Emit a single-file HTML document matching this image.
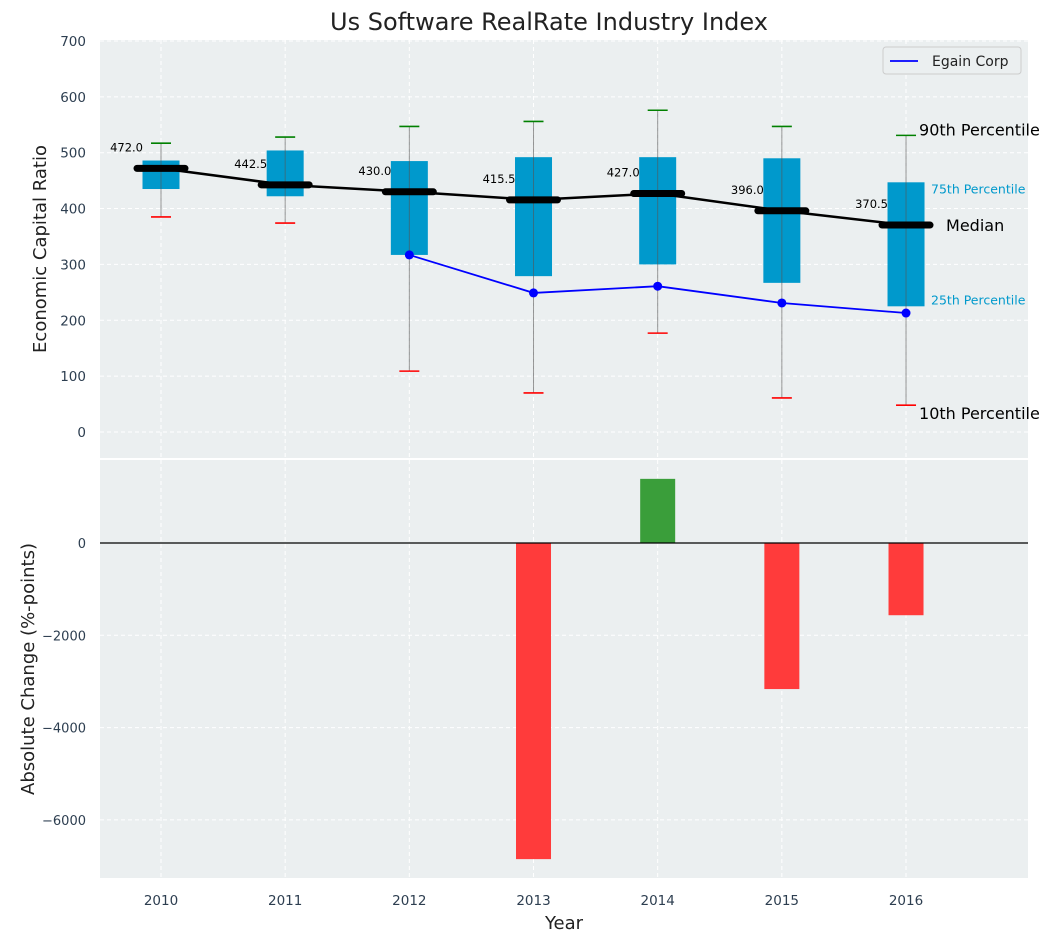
<!DOCTYPE html>
<html><head><meta charset="utf-8"><style>
body{margin:0;background:#fff}
svg{display:block;font-family:"DejaVu Sans","Liberation Sans",sans-serif}
</style></head><body>
<svg id="c" width="1054" height="942"></svg>
<script>
const years=[2010,2011,2012,2013,2014,2015,2016];
const q1=[435,422,317,279,300,267,225];
const q3=[486,504,485,492,492,490,447];
const med=[472.0,442.5,430.0,415.5,427.0,396.0,370.5];
const p10=[385,374,109,70,177,61,48];
const p90=[517,528,547,556,576,547,531];
const egYears=[2012,2013,2014,2015,2016];
const egain=[317,249,261,231,213];
const chgYears=[2013,2014,2015,2016];
const chg=[-6850,1390,-3165,-1565];
const topTicks=[0,100,200,300,400,500,600,700];
const botTicks=[0,-2000,-4000,-6000];

const NS="http://www.w3.org/2000/svg";
const svg=document.getElementById('c');
function el(t,a,p){const e=document.createElementNS(NS,t);for(const k in a)e.setAttribute(k,a[k]);(p||svg).appendChild(e);return e;}
function tx(s,a,p){const e=el('text',a,p);e.textContent=s;return e;}
const X=v=>161+(v-2010)*124.17;
const Y1=v=>432-v*0.5586;
const Y2=v=>543-v*0.04615;

const bg1=el('rect',{x:100,y:40,width:928,height:418,fill:'#ebeff0'});

const bg2=el('rect',{x:100,y:460,width:928,height:418,fill:'#ebeff0'});


years.forEach(y=>{
 el('line',{x1:X(y),x2:X(y),y1:40,y2:458,stroke:'#fff','stroke-dasharray':'4,3'});
 el('line',{x1:X(y),x2:X(y),y1:460,y2:878,stroke:'#fff','stroke-dasharray':'4,3'});
 const t=tx(String(y),{x:X(y),y:905,'text-anchor':'middle','font-size':13.5,fill:'#2d3e50'});
 
});
topTicks.forEach(v=>{
 el('line',{x1:100,x2:1028,y1:Y1(v),y2:Y1(v),stroke:'#fff','stroke-dasharray':'4,3'});
 const t=tx(String(v),{x:86,y:Y1(v)+5,'text-anchor':'end','font-size':13.5,fill:'#2d3e50'});
 
});
botTicks.forEach(v=>{
 el('line',{x1:100,x2:1028,y1:Y2(v),y2:Y2(v),stroke:'#fff','stroke-dasharray':'4,3'});
 const t=tx(v<0?'\u2212'+(-v):String(v),{x:86,y:Y2(v)+5,'text-anchor':'end','font-size':13,fill:'#2d3e50'});
 
});

years.forEach((y,i)=>{
 const x=X(y);
 const b=el('rect',{x:x-18.5,y:Y1(q3[i]),width:37,height:Y1(q1[i])-Y1(q3[i]),fill:'#0099cc'});
 
 el('line',{x1:x,x2:x,y1:Y1(p90[i]),y2:Y1(p10[i]),stroke:'#555','stroke-width':1,opacity:0.6});
 const c1=el('line',{x1:x-10,x2:x+10,y1:Y1(p90[i]),y2:Y1(p90[i]),stroke:'green','stroke-width':1.6});
 
 const c2=el('line',{x1:x-10,x2:x+10,y1:Y1(p10[i]),y2:Y1(p10[i]),stroke:'red','stroke-width':1.6});
 
});
const ml=el('polyline',{points:years.map((y,i)=>X(y)+','+Y1(med[i])).join(' '),fill:'none',stroke:'#000','stroke-width':2.5});

years.forEach((y,i)=>{
 const m=el('line',{x1:X(y)-24,x2:X(y)+24,y1:Y1(med[i]),y2:Y1(med[i]),stroke:'#000','stroke-width':7,'stroke-linecap':'round'});
 
 const t=tx(med[i].toFixed(1),{x:X(y)-18,y:Y1(med[i])-17,'text-anchor':'end','font-size':11.5,fill:'#000'});
 
});
const eg=el('polyline',{points:egYears.map((y,i)=>X(y)+','+Y1(egain[i])).join(' '),fill:'none',stroke:'#0000ff','stroke-width':1.8});

egYears.forEach((y,i)=>{
 const p=el('circle',{cx:X(y),cy:Y1(egain[i]),r:4.5,fill:'#0000ff'});
 
});
const ax=X(2016);
[['90th Percentile',ax+13,Y1(p90[6])+0,16,'#000'],['75th Percentile',ax+25,Y1(q3[6])+11,12.5,'#0099cc'],
 ['Median',ax+40,Y1(med[6])+6,16,'#000'],['25th Percentile',ax+25,Y1(q1[6])-2,12.5,'#0099cc'],
 ['10th Percentile',ax+13,Y1(p10[6])+14,16,'#000']].forEach(a=>{
 const t=tx(a[0],{x:a[1],y:a[2],'font-size':a[3],fill:a[4]});
 
});
const lg=el('g',{});
el('rect',{x:883,y:47,width:138,height:27,fill:'#ebeff0',stroke:'#ccc',rx:3},lg);
el('line',{x1:890,x2:918,y1:61,y2:61,stroke:'#0000ff','stroke-width':1.8},lg);
tx('Egain Corp',{x:932,y:66,'font-size':14,fill:'#222'},lg);

chgYears.forEach((y,i)=>{
 const v=chg[i];
 const r=el('rect',{x:X(y)-17.5,y:Math.min(Y2(0),Y2(v)),width:35,height:Math.abs(Y2(v)-Y2(0)),fill:v>=0?'#3a9e3a':'#ff3b3b'});
 
});
el('line',{x1:100,x2:1028,y1:Y2(0),y2:Y2(0),stroke:'#000','stroke-width':1.2});

const ti=tx('Us Software RealRate Industry Index',{x:549,y:30,'text-anchor':'middle','font-size':24,fill:'#222'});

const yt=tx('Economic Capital Ratio',{x:0,y:0,transform:'translate(46,249) rotate(-90)','text-anchor':'middle','font-size':18,fill:'#222'});

const yt2=tx('Absolute Change (%-points)',{x:0,y:0,transform:'translate(34,669) rotate(-90)','text-anchor':'middle','font-size':18,fill:'#222'});

const xt=tx('Year',{x:564,y:929,'text-anchor':'middle','font-size':18,fill:'#222'});

</script>
</body></html>
